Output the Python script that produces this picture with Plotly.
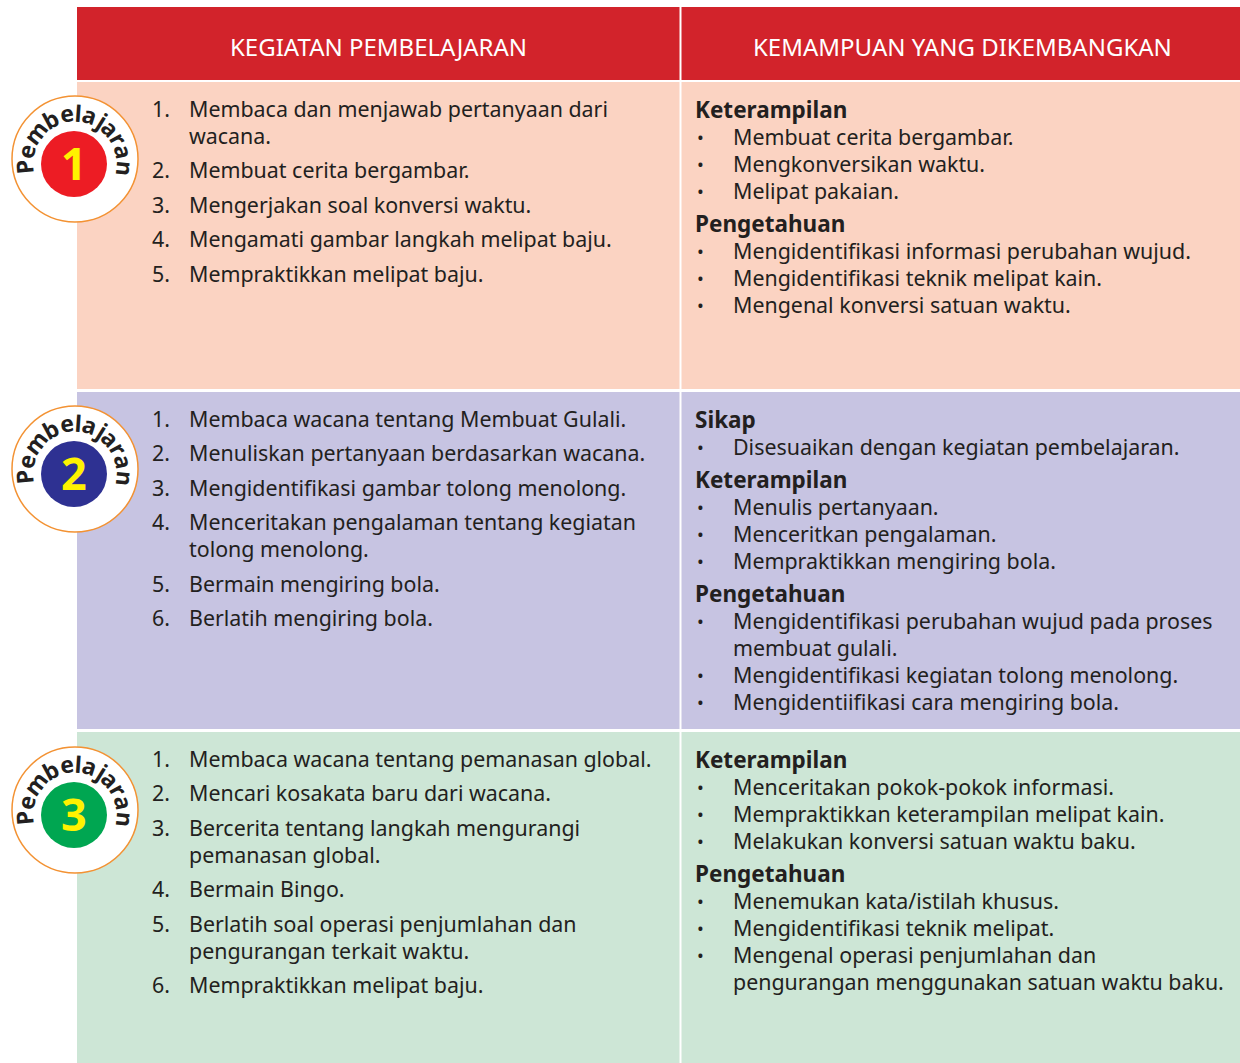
import math
import plotly.graph_objects as go

W, H = 1240, 1063

headers = ["KEGIATAN PEMBELAJARAN", "KEMAMPUAN YANG DIKEMBANGKAN"]
badge_numbers = ["1", "2", "3"]
badge_word = "Pembelajaran"

row_colors = ["#FBD3C2", "#C7C4E2", "#CDE6D6"]
badge_colors = ["#ED1C24", "#2E3192", "#00A651"]

kegiatan_1 = [
    ["Membaca dan menjawab pertanyaan dari", "wacana."],
    ["Membuat cerita bergambar."],
    ["Mengerjakan soal konversi waktu."],
    ["Mengamati gambar langkah melipat baju."],
    ["Mempraktikkan melipat baju."],
]
kegiatan_2 = [
    ["Membaca wacana tentang Membuat Gulali."],
    ["Menuliskan pertanyaan berdasarkan wacana."],
    ["Mengidentifikasi gambar tolong menolong."],
    ["Menceritakan pengalaman tentang kegiatan", "tolong menolong."],
    ["Bermain mengiring bola."],
    ["Berlatih mengiring bola."],
]
kegiatan_3 = [
    ["Membaca wacana tentang pemanasan global."],
    ["Mencari kosakata baru dari wacana."],
    ["Bercerita tentang langkah mengurangi", "pemanasan global."],
    ["Bermain Bingo."],
    ["Berlatih soal operasi penjumlahan dan", "pengurangan terkait waktu."],
    ["Mempraktikkan melipat baju."],
]

kemampuan_1 = [
    ("Keterampilan", [["Membuat cerita bergambar."],
                      ["Mengkonversikan waktu."],
                      ["Melipat pakaian."]]),
    ("Pengetahuan", [["Mengidentifikasi informasi perubahan wujud."],
                     ["Mengidentifikasi teknik melipat kain."],
                     ["Mengenal konversi satuan waktu."]]),
]
kemampuan_2 = [
    ("Sikap", [["Disesuaikan dengan kegiatan pembelajaran."]]),
    ("Keterampilan", [["Menulis pertanyaan."],
                      ["Menceritkan pengalaman."],
                      ["Mempraktikkan mengiring bola."]]),
    ("Pengetahuan", [["Mengidentifikasi perubahan wujud pada proses", "membuat gulali."],
                     ["Mengidentifikasi kegiatan tolong menolong."],
                     ["Mengidentiifikasi cara mengiring bola."]]),
]
kemampuan_3 = [
    ("Keterampilan", [["Menceritakan pokok-pokok informasi."],
                      ["Mempraktikkan keterampilan melipat kain."],
                      ["Melakukan konversi satuan waktu baku."]]),
    ("Pengetahuan", [["Menemukan kata/istilah khusus."],
                     ["Mengidentifikasi teknik melipat."],
                     ["Mengenal operasi penjumlahan dan", "pengurangan menggunakan satuan waktu baku."]]),
]

kegiatan = [kegiatan_1, kegiatan_2, kegiatan_3]
kemampuan = [kemampuan_1, kemampuan_2, kemampuan_3]

# layout geometry (pixels)
LEFT, MID, RIGHT = 77, 680.5, 1240
HDR_TOP, HDR_BOT = 7, 80
rows = [(82, 389), (392, 729), (732, 1063)]
badge_cy = [159, 469, 810]
# approximate bold glyph advances (em) used to space the curved word
advances = {"P": 0.63, "e": 0.58, "m": 0.93, "b": 0.64, "l": 0.30, "a": 0.59,
            "j": 0.30, "r": 0.43, "n": 0.64}
TXT = "#231F20"
FONT = "Noto Sans"
FS = 21.4
LINE = 27
GAP = 34.5
PAD = 2  # annotation inner padding

fig = go.Figure()
shapes = []
ann = []

def rect(x0, y0, x1, y1, color):
    shapes.append(dict(type="rect", xref="x", yref="y", x0=x0, y0=y0, x1=x1, y1=y1,
                       fillcolor=color, line=dict(width=0), layer="below"))

# header
rect(LEFT, HDR_TOP, MID - 1, HDR_BOT, "#D2232B")
rect(MID + 1, HDR_TOP, RIGHT, HDR_BOT, "#D2232B")
ann.append(dict(x=(LEFT + MID) / 2, y=46, text=headers[0], showarrow=False,
                font=dict(family=FONT, size=24, color="white"), xanchor="center", yanchor="middle"))
ann.append(dict(x=(MID + RIGHT) / 2 + 2, y=46, text=headers[1], showarrow=False,
                font=dict(family=FONT, size=24, color="white"), xanchor="center", yanchor="middle"))

def txt(x, y, s, size=FS, bold=False, anchor="left"):
    xx = x - PAD if anchor == "left" else x
    ann.append(dict(x=xx, y=y, text=("<b>%s</b>" % s) if bold else s, showarrow=False,
                    font=dict(family=FONT, size=size, color=TXT), xanchor=anchor, yanchor="middle"))

for i, (top, bot) in enumerate(rows):
    rect(LEFT, top, MID - 1, bot, row_colors[i])
    rect(MID + 1, top, RIGHT, bot, row_colors[i])

    # left column items
    y = top + 26
    for k, item in enumerate(kegiatan[i]):
        txt(152, y, "%d." % (k + 1))
        for j, line in enumerate(item):
            txt(189, y, line)
            if j < len(item) - 1:
                y += LINE
        y += GAP

    # right column
    y = top + 27.5
    for g, (head, items) in enumerate(kemampuan[i]):
        if g > 0:
            y += 33
        txt(695, y, head, size=22.5, bold=True)
        for item in items:
            y += LINE
            txt(700, y, "•", anchor="center", size=18)
            for j, line in enumerate(item):
                txt(733, y, line)
                if j < len(item) - 1:
                    y += LINE

    # badge
    cx, cy = 75, badge_cy[i]
    R = 63
    shapes.append(dict(type="circle", xref="x", yref="y", x0=cx - R, x1=cx + R, y0=cy - R, y1=cy + R,
                       fillcolor="white", line=dict(color="#F39233", width=1.5)))
    r = 33
    icy = cy + 5
    shapes.append(dict(type="circle", xref="x", yref="y", x0=cx - 1 - r, x1=cx - 1 + r, y0=icy - r, y1=icy + r,
                       fillcolor=badge_colors[i], line=dict(width=0)))
    ann.append(dict(x=cx - 1, y=cy + 3, text="<b>%s</b>" % badge_numbers[i], showarrow=False,
                    font=dict(family=FONT, size=45, color="#FFF200"), xanchor="center", yanchor="middle"))
    # curved word, letters spaced by their advances along the arc
    ws = [advances[c] for c in badge_word]
    mids = []
    acc = 0.0
    for w in ws:
        mids.append(acc + w / 2)
        acc += w
    a0, a1 = 185.0, -6.0
    span = mids[-1] - mids[0]
    rr = 50.5
    acx, acy = cx, cy + 4
    for c, m in zip(badge_word, mids):
        th = a0 + (a1 - a0) * (m - mids[0]) / span
        x = acx + rr * math.cos(math.radians(th))
        yy = acy - rr * math.sin(math.radians(th))
        ann.append(dict(x=x, y=yy, text="<b>%s</b>" % c, showarrow=False, textangle=90 - th,
                        font=dict(family=FONT, size=23, color="#231F20"), xanchor="center", yanchor="middle"))

fig.update_layout(
    width=W, height=H, margin=dict(l=0, r=0, t=0, b=0), autosize=False,
    paper_bgcolor="white", plot_bgcolor="white",
    xaxis=dict(range=[0, W], visible=False, fixedrange=True),
    yaxis=dict(range=[H, 0], visible=False, fixedrange=True),
    shapes=shapes, annotations=ann, showlegend=False,
)
post = ("document.body.style.margin='0';document.body.style.overflow='hidden';"
        "var gd=document.getElementById('{plot_id}');"
        "Plotly.relayout(gd,{width:%d,height:%d});" % (W, H))
fig.write_html("out.html", config={"responsive": False, "displayModeBar": False}, post_script=post)
